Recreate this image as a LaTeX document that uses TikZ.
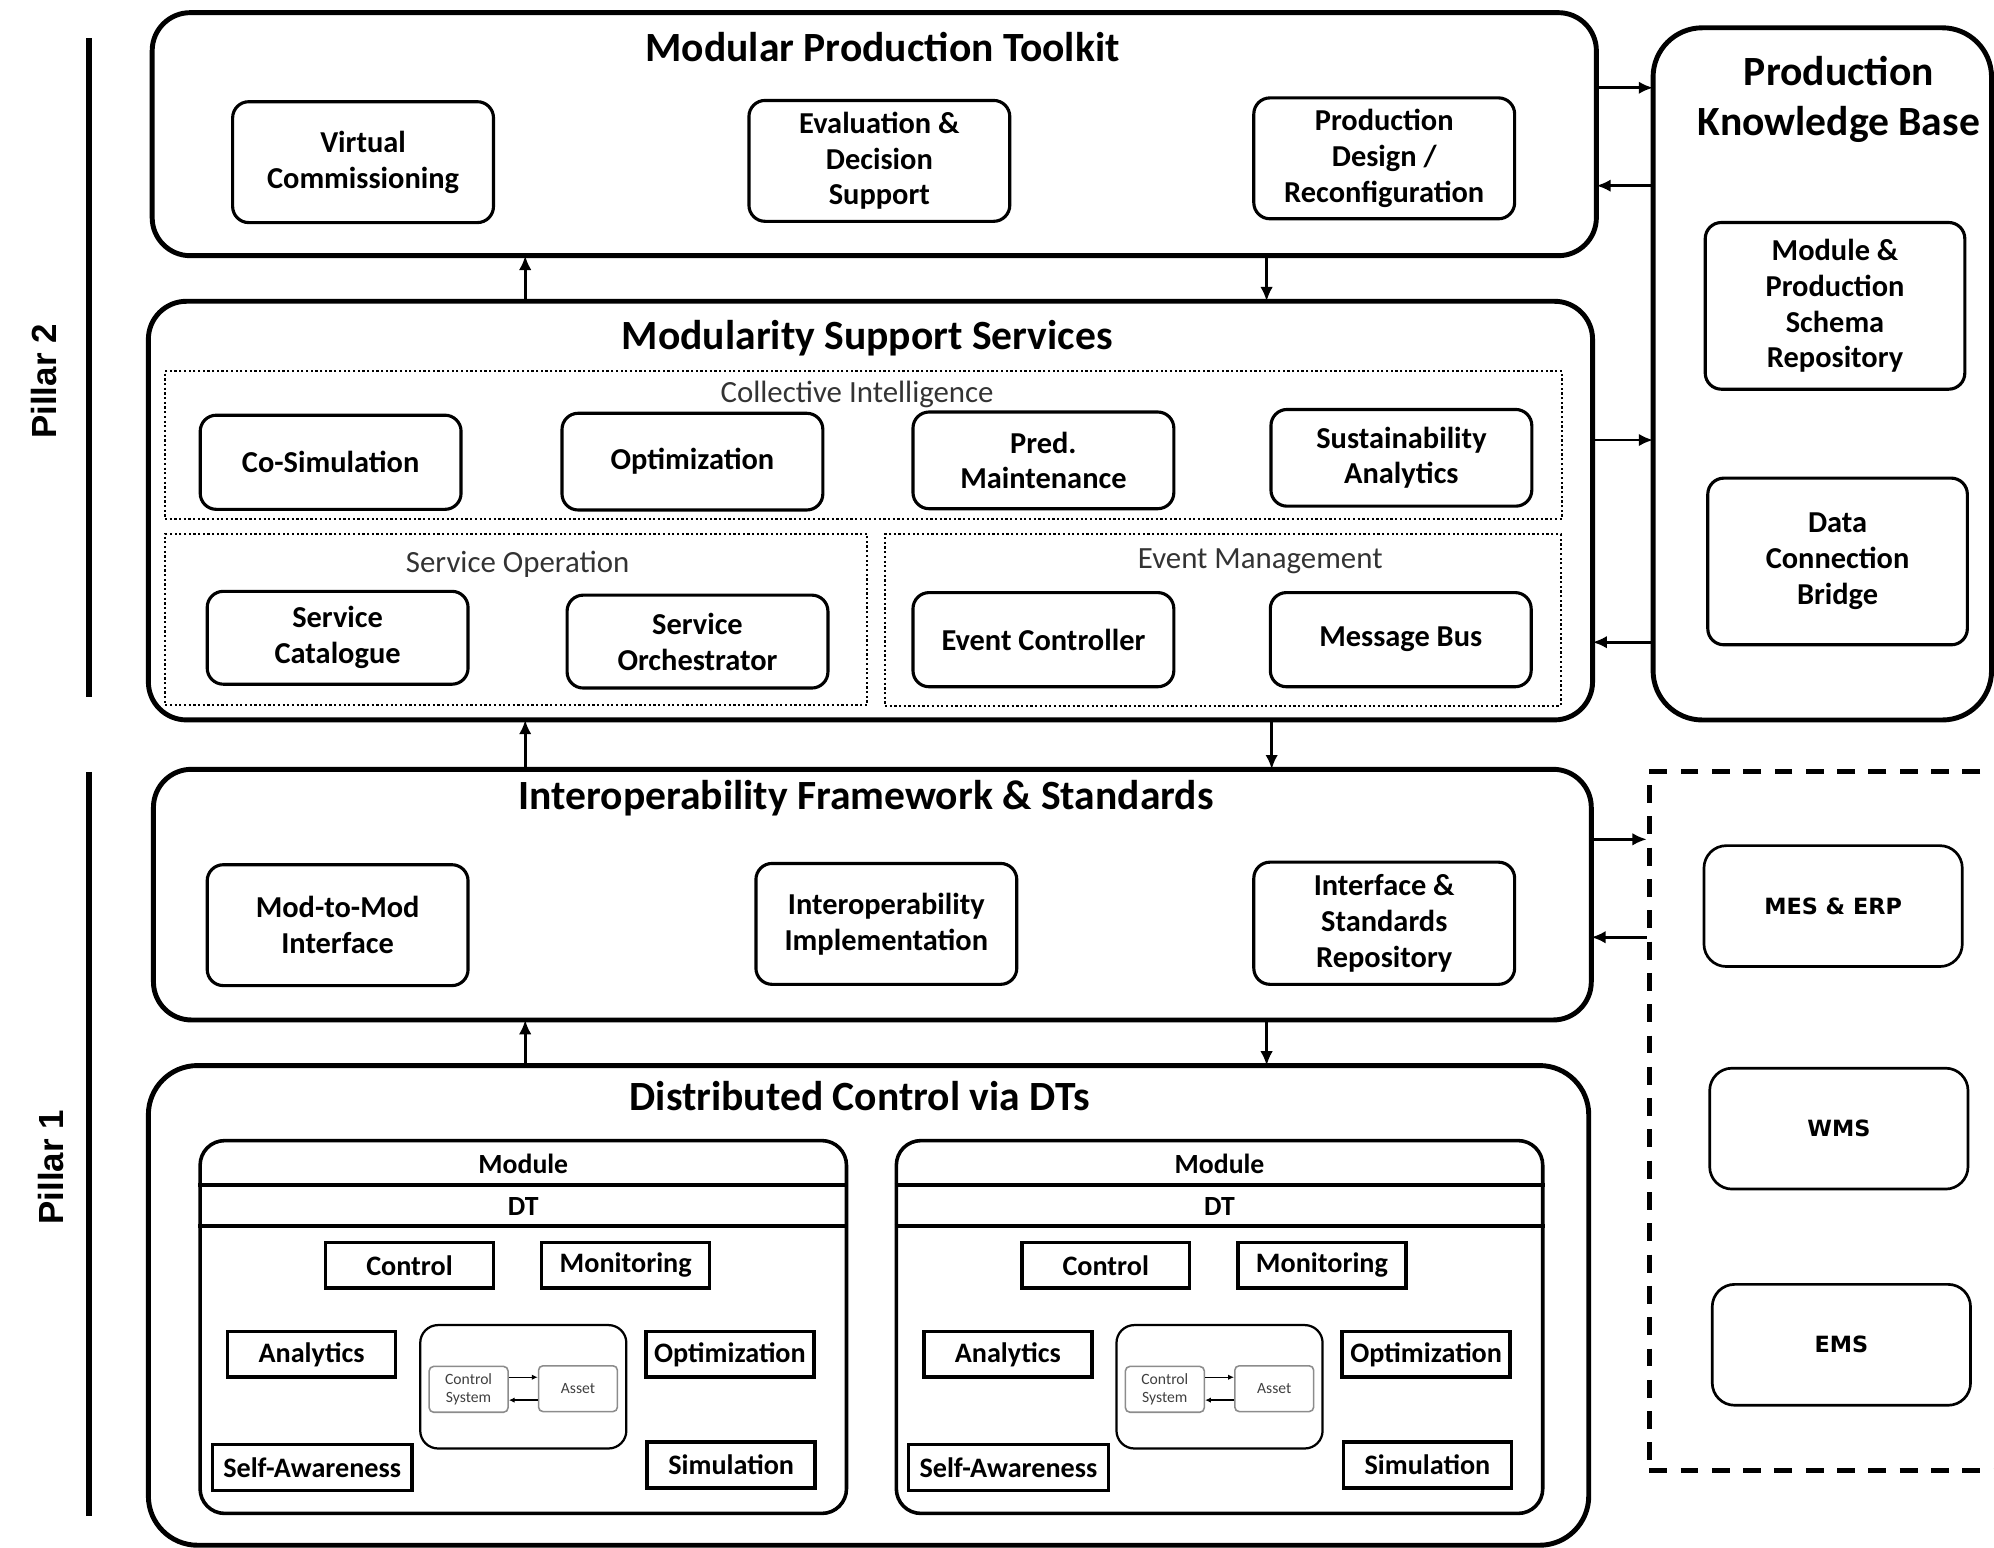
\documentclass[tikz,border=0pt]{standalone}
\usepackage{fontspec}
\setmainfont{Carlito}
\newfontfamily\pillarfont{Liberation Sans}
\newfontfamily\extfont{DejaVu Sans}
\usetikzlibrary{arrows.meta,positioning,calc}

\begin{document}
\begin{tikzpicture}[
    x=0.01cm, y=-0.01cm,
    outer/.style={
        rectangle, draw, line width=1.1pt, rounded corners=8.5pt,
        inner sep=0pt, outer sep=0pt
    },
    sub/.style={
        rectangle, draw, line width=0.7pt, rounded corners=3.6pt,
        minimum width=2.05cm, align=center, inner sep=0pt,
        font=\fontsize{6.8}{8}\selectfont\bfseries
    },
    group/.style={
        rectangle, draw, line width=0.45pt, dash pattern=on 0.5pt off 0.55pt,
        inner sep=0pt, outer sep=0pt
    },
    ttl/.style={
        font=\fontsize{9.3}{11.1}\selectfont\bfseries, align=center
    },
    glbl/.style={
        font=\fontsize{6.9}{8}\selectfont, text=black!80
    },
    comp/.style={
        rectangle, draw, line width=0.8pt, minimum width=1.32cm,
        minimum height=0.36cm, inner sep=0pt,
        font=\fontsize{6.3}{7.5}\selectfont\bfseries
    },
    tiny/.style={
        rectangle, draw=black!45, line width=0.35pt, rounded corners=1pt,
        minimum width=0.62cm, minimum height=0.36cm, inner sep=0pt,
        align=center, text=black!75, font=\fontsize{3.5}{4}\selectfont
    },
    extbox/.style={
        rectangle, draw, line width=0.6pt, rounded corners=5pt,
        minimum width=2.03cm, minimum height=0.95cm, inner sep=0pt,
        font=\extfont\fontsize{5}{6}\selectfont\bfseries
    },
    arrow/.style={
        -{Latex[length=3.2pt,width=2.8pt]}, line width=0.6pt
    },
    pillar/.style={
        rotate=90, font=\pillarfont\fontsize{7.8}{9}\selectfont\bfseries
    }
]
\clip (0,0) rectangle (1568,1217);

% Pillars
\draw[line width=1.3pt] (70,30) -- (70,548);
\draw[line width=1.3pt] (70,607) -- (70,1192);
\node[pillar] (pil2) at (35,300) {Pillar 2};
\node[pillar] (pil1) at (40,918) {Pillar 1};

% Modular Production Toolkit
\node[outer, minimum width=11.35cm, minimum height=1.91cm] (toolkit) at (687.5,105.5) {};
\node[ttl] (toolkitT) at (694,37) {Modular Production Toolkit};
\node[sub, minimum height=0.95cm] (vc) at (285.5,127.5) {Virtual\\Commissioning};
\node[sub, minimum height=0.95cm] (eval) at (691.5,126.5) {Evaluation \&\\Decision\\Support};
\node[sub, minimum height=0.95cm] (design) at (1088.5,124.5) {Production\\Design /\\Reconfiguration};

% Modularity Support Services
\node[outer, minimum width=11.35cm, minimum height=3.29cm] (mss) at (684.5,401.5) {};
\node[ttl] (mssT) at (682,266) {Modularity Support Services};
\node[group, minimum width=10.98cm, minimum height=1.16cm] (ci) at (679,350) {};
\node[group, minimum width=5.52cm, minimum height=1.34cm] (so) at (406,487) {};
\node[group, minimum width=5.31cm, minimum height=1.35cm] (em) at (961.5,487.5) {};
\node[glbl] (ciT) at (674,310) {Collective Intelligence};
\node[glbl] (soT) at (407,444) {Service Operation};
\node[glbl] (emT) at (991,441) {Event Management};
\node[sub, minimum height=0.74cm] (cosim) at (260,363.5) {Co-Simulation};
\node[sub, minimum height=0.76cm] (optim) at (544.5,363) {Optimization};
\node[sub, minimum height=0.76cm] (pred) at (820.5,362) {Pred.\\Maintenance};
\node[sub, minimum height=0.76cm] (sust) at (1102,360) {Sustainability\\Analytics};
\node[sub, minimum height=0.73cm] (cat) at (265.5,501.5) {Service\\Catalogue};
\node[sub, minimum height=0.73cm] (orch) at (548.5,504.5) {Service\\Orchestrator};
\node[sub, minimum height=0.74cm] (evc) at (820.5,503) {Event Controller};
\node[sub, minimum height=0.74cm] (bus) at (1101.5,503) {Message Bus};

% Interoperability Framework & Standards
\node[outer, minimum width=11.30cm, minimum height=1.97cm] (ifs) at (686,703.5) {};
\node[ttl] (ifsT) at (681,628) {Interoperability Framework \& Standards};
\node[sub, minimum height=0.95cm] (m2m) at (265.5,727.5) {Mod-to-Mod\\Interface};
\node[sub, minimum height=0.95cm] (impl) at (697,726.5) {Interoperability\\Implementation};
\node[sub, minimum height=0.96cm] (repo) at (1088.5,726) {Interface \&\\Standards\\Repository};

% Distributed Control via DTs
\node[outer, rounded corners=11pt, minimum width=11.32cm, minimum height=3.77cm] (dcdt) at (683,1026.5) {};
\node[ttl] (dcdtT) at (676,862) {Distributed Control via DTs};
\foreach \m/\cx in {A/411.5, B/959} {
    \node[rectangle, draw, line width=0.8pt, rounded corners=5.5pt, inner sep=0pt,
          minimum width=5.08cm, minimum height=2.93cm] (mod\m) at (\cx,1043.5) {};
    \draw[line width=0.8pt] (mod\m.west |- 0,932) -- (mod\m.east |- 0,932);
    \draw[line width=0.8pt] (mod\m.west |- 0,964) -- (mod\m.east |- 0,964);
    \node[font=\fontsize{6.2}{7}\selectfont\bfseries] (modT\m) at (\cx,915) {Module};
    \node[font=\fontsize{6.2}{7}\selectfont\bfseries] (dtT\m) at (\cx,949) {DT};
    \node[comp] (ctrl\m) at (\cx-89.5,995) {Control};
    \node[comp] (mon\m) at (\cx+80.5,995) {Monitoring};
    \node[comp] (ana\m) at (\cx-166.5,1065) {Analytics};
    \node[comp] (opt\m) at (\cx+162.5,1065) {Optimization};
    \node[comp, minimum width=1.57cm] (self\m) at (\cx-166,1154) {Self-Awareness};
    \node[comp] (sim\m) at (\cx+163.5,1152) {Simulation};
    \node[rectangle, draw, line width=0.5pt, rounded corners=4pt, inner sep=0pt,
          minimum width=1.62cm, minimum height=0.97cm] (core\m) at (\cx,1090.5) {};
    \node[tiny] (cs\m) at (\cx-43,1092.5) {Control\\System};
    \node[tiny] (asset\m) at (\cx+43,1092) {Asset};
    \draw[-{Latex[length=1.3pt,width=1.2pt]}, line width=0.3pt] (cs\m.east |- 0,1083) -- (asset\m.west |- 0,1083);
    \draw[-{Latex[length=1.3pt,width=1.2pt]}, line width=0.3pt] (asset\m.west |- 0,1101) -- (cs\m.east |- 0,1101);
}

% Production Knowledge Base
\node[outer, rounded corners=11pt, minimum width=2.66cm, minimum height=5.44cm] (pkb) at (1433,294) {};
\node[ttl] (pkbT) at (1446,78) {Production\\Knowledge Base};
\node[sub, minimum width=2.04cm, minimum height=1.31cm] (schema) at (1443,240.5) {Module \&\\Production\\Schema\\Repository};
\node[sub, minimum width=2.04cm, minimum height=1.31cm] (bridge) at (1445,441.5) {Data\\Connection\\Bridge};

% External systems
\node[rectangle, draw, line width=1.1pt, dash pattern=on 4pt off 3pt, inner sep=0pt,
      minimum width=3.23cm, minimum height=5.49cm] (ext) at (1458.5,881.5) {};
\node[extbox] (mes) at (1441.5,712.5) {MES \& ERP};
\node[extbox] (wms) at (1446,887.5) {WMS};
\node[extbox] (ems) at (1448,1057.5) {EMS};

% Arrows
\draw[arrow] (413,0 |- mss.north) -- (413,0 |- toolkit.south);
\draw[arrow] (996,0 |- toolkit.south) -- (996,0 |- mss.north);
\draw[arrow] (413,0 |- ifs.north) -- (413,0 |- mss.south);
\draw[arrow] (1000,0 |- mss.south) -- (1000,0 |- ifs.north);
\draw[arrow] (413,0 |- dcdt.north) -- (413,0 |- ifs.south);
\draw[arrow] (996,0 |- ifs.south) -- (996,0 |- dcdt.north);
\draw[arrow] (toolkit.east |- 0,69) -- (pkb.west |- 0,69);
\draw[arrow] (pkb.west |- 0,146) -- (toolkit.east |- 0,146);
\draw[arrow] (mss.east |- 0,346) -- (pkb.west |- 0,346);
\draw[arrow] (pkb.west |- 0,505) -- (mss.east |- 0,505);
\draw[arrow] (ifs.east |- 0,660) -- (ext.west |- 0,660);
\draw[arrow] (ext.west |- 0,737) -- (ifs.east |- 0,737);

\end{tikzpicture}
\end{document}
